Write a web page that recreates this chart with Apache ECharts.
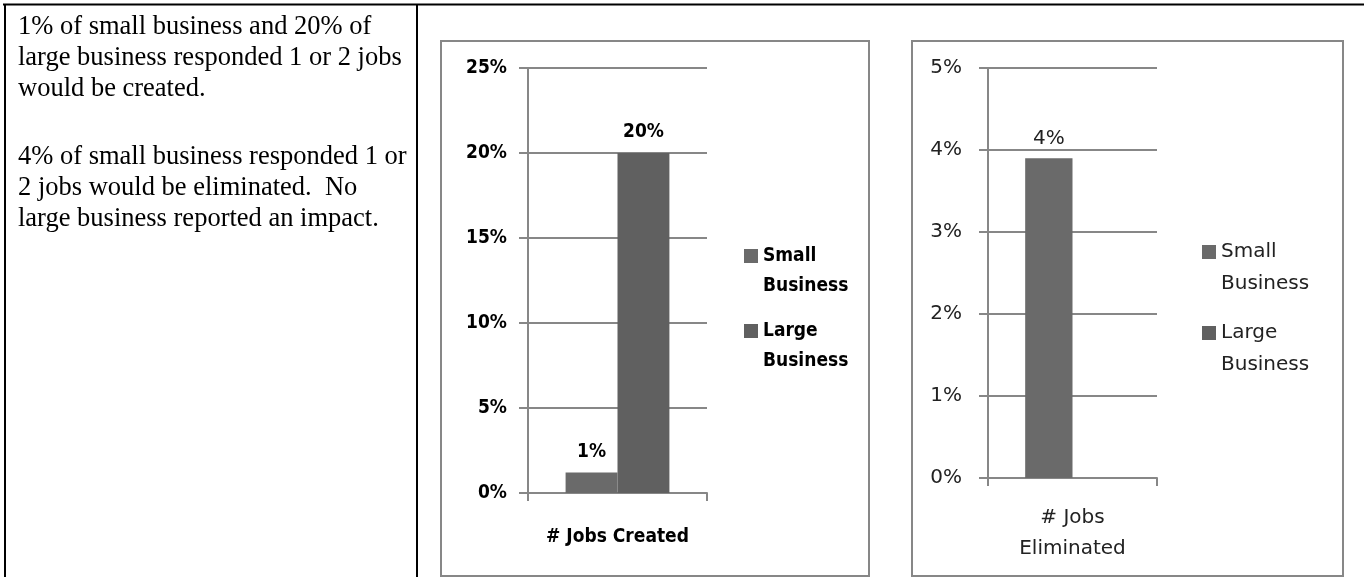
<!DOCTYPE html>
<html>
<head>
<meta charset="utf-8">
<title>Jobs created and eliminated</title>
<script src="https://cdn.jsdelivr.net/npm/echarts@6/dist/echarts.min.js"></script>
<style>
  html, body { margin: 0; padding: 0; background: #ffffff; }
  #chart { width: 1364px; height: 577px; }
</style>
</head>
<body>
<div id="chart"></div>
<script>
// ---- data ----
const seriesNames = ['Small Business', 'Large Business'];
const createdCategories = ['# Jobs Created'];
const createdSmall = [1.2];
const createdLarge = [20];
const createdTicks = [0, 5, 10, 15, 20, 25];
const eliminatedCategories = ['# Jobs\nEliminated'];
const eliminatedSmall = [3.9];
const eliminatedLarge = [null];
const eliminatedTicks = [0, 1, 2, 3, 4, 5];
const noteCreated = [
  '1% of small business and 20% of',
  'large business responded 1 or 2 jobs',
  'would be created.'
];
const noteEliminated = [
  '4% of small business responded 1 or',
  '2 jobs would be eliminated.  No',
  'large business reported an impact.'
];

// ---- styling ----
const boldFont = '"DejaVu Sans Condensed", "Liberation Sans Narrow", "DejaVu Sans", sans-serif';
const plainFont = '"DejaVu Sans", sans-serif';
const serifFont = '"Liberation Serif", "DejaVu Serif", serif';
const axisGray = '#878787';
const smallColor = '#6a6a6a';
const largeColor = '#606060';

const pct = v => v + '%';
const roundPct = p => (p.value == null ? '' : Math.round(p.value) + '%');

function valueAxis(gridIndex, ticks, labelStyle) {
  return {
    gridIndex: gridIndex,
    type: 'value',
    min: ticks[0],
    max: ticks[ticks.length - 1],
    interval: ticks[1] - ticks[0],
    axisLine: { show: true, lineStyle: { color: axisGray, width: 2 } },
    axisTick: { show: true, length: 9, lineStyle: { color: axisGray, width: 2 } },
    splitLine: { show: true, lineStyle: { color: axisGray, width: 2 } },
    axisLabel: Object.assign({ formatter: pct }, labelStyle)
  };
}

function categoryAxis(gridIndex, data, labelStyle) {
  return {
    gridIndex: gridIndex,
    type: 'category',
    data: data,
    axisLine: { show: true, lineStyle: { color: axisGray, width: 2 } },
    axisTick: { show: true, length: 8, lineStyle: { color: axisGray, width: 2 } },
    splitLine: { show: false },
    axisLabel: labelStyle
  };
}

const createdText = { fontFamily: boldFont, fontWeight: 'bold', fontSize: 19, color: '#000' };
const eliminatedText = { fontFamily: plainFont, fontWeight: 'normal', fontSize: 20, color: '#222' };

// Legend names wrap onto two lines; a leading blank line keeps the
// first word level with the swatch.
function legendFor(left, top, text, lineHeight, gap) {
  return {
    data: seriesNames,
    orient: 'vertical',
    left: left,
    top: top,
    padding: 0,
    icon: 'rect',
    itemWidth: 14,
    itemHeight: 14,
    itemGap: gap,
    selectedMode: false,
    formatter: n => '\n' + n.replace(' ', '\n'),
    textStyle: Object.assign({}, text, { lineHeight: lineHeight })
  };
}

function lineEl(x1, y1, x2, y2) {
  return { type: 'line', shape: { x1, y1, x2, y2 }, style: { stroke: '#000', lineWidth: 2 }, silent: true };
}

function frameEl(x, y, w, h) {
  return { type: 'rect', shape: { x, y, width: w, height: h }, style: { fill: 'none', stroke: axisGray, lineWidth: 2 }, silent: true };
}

function noteEl(lines, top) {
  return {
    type: 'text', left: 18, top: top, silent: true,
    style: { text: lines.join('\n'), font: '26.5px ' + serifFont, lineHeight: 31, fill: '#000' }
  };
}

const chart = echarts.init(document.getElementById('chart'), null, { renderer: 'canvas' });

chart.setOption({
  animation: false,
  backgroundColor: '#ffffff',
  graphic: [
    lineEl(3, 4.5, 1364, 4.5),
    lineEl(5, 4, 5, 577),
    lineEl(417, 4, 417, 577),
    frameEl(441, 41, 428, 535),
    frameEl(912, 41, 431, 535),
    noteEl(noteCreated, 12),
    noteEl(noteEliminated, 142)
  ],
  grid: [
    { left: 528, top: 68, width: 179, height: 425, outerBoundsMode: 'none', containLabel: false },
    { left: 988, top: 68, width: 169, height: 410, outerBoundsMode: 'none', containLabel: false }
  ],
  legend: [
    legendFor(744, 211, createdText, 30, -15),
    legendFor(1202, 204, eliminatedText, 32, -15)
  ],
  xAxis: [
    categoryAxis(0, createdCategories, Object.assign({ margin: 35 }, createdText)),
    categoryAxis(1, eliminatedCategories, Object.assign({ margin: 24, lineHeight: 31 }, eliminatedText))
  ],
  yAxis: [
    valueAxis(0, createdTicks, Object.assign({ margin: 21 }, createdText)),
    valueAxis(1, eliminatedTicks, Object.assign({ margin: 26 }, eliminatedText))
  ],
  series: [
    {
      type: 'bar', name: seriesNames[0], xAxisIndex: 0, yAxisIndex: 0,
      data: createdSmall, barGap: '0%', barCategoryGap: '42%',
      itemStyle: { color: smallColor },
      label: Object.assign({ show: true, position: 'top', distance: 11, formatter: roundPct }, createdText)
    },
    {
      type: 'bar', name: seriesNames[1], xAxisIndex: 0, yAxisIndex: 0,
      data: createdLarge, barGap: '0%', barCategoryGap: '42%',
      itemStyle: { color: largeColor },
      label: Object.assign({ show: true, position: 'top', distance: 11, formatter: roundPct }, createdText)
    },
    {
      type: 'bar', name: seriesNames[0], xAxisIndex: 1, yAxisIndex: 1,
      data: eliminatedSmall, barGap: '0%', barCategoryGap: '44%',
      itemStyle: { color: smallColor },
      label: Object.assign({ show: true, position: 'top', distance: 9, formatter: roundPct }, eliminatedText)
    },
    {
      type: 'bar', name: seriesNames[1], xAxisIndex: 1, yAxisIndex: 1,
      data: eliminatedLarge, barGap: '0%', barCategoryGap: '44%',
      itemStyle: { color: largeColor },
      label: Object.assign({ show: true, position: 'top', distance: 9, formatter: roundPct }, eliminatedText)
    }
  ]
});
</script>
</body>
</html>
